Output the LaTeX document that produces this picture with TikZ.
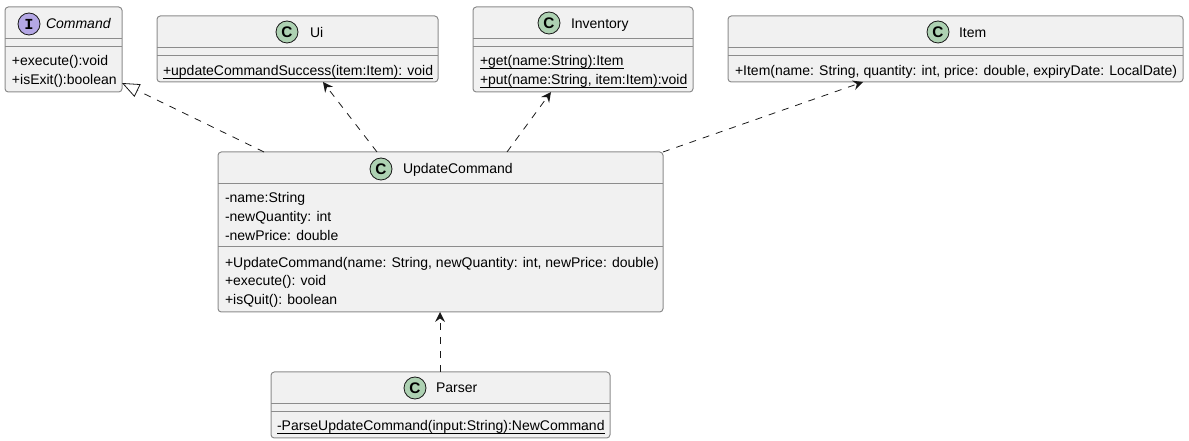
\documentclass[tikz,border=0pt]{standalone}
\usepackage{fontspec}
\setmainfont{Liberation Sans}
\newfontfamily\monob{Liberation Mono}[Scale=1.0]
\usetikzlibrary{arrows.meta,calc}
\definecolor{boxfill}{HTML}{F1F1F1}
\definecolor{boxline}{HTML}{8C8C8C}
\definecolor{inkc}{HTML}{181818}
\definecolor{classc}{HTML}{ADD1B2}
\definecolor{ifacec}{HTML}{B4A7E5}
\newlength{\ulwidth}
\newcommand{\ulmember}[1]{\settowidth{\ulwidth}{#1}\rlap{\rule[-2.3pt]{\ulwidth}{0.5pt}}#1}
\tikzset{
  x=0.75pt,y=-0.75pt,
  umlbox/.style={draw=boxline,fill=boxfill,line width=0.75pt,rounded corners=2.5pt,inner sep=0pt,outer sep=0pt,anchor=north west},
  sepline/.style={draw=boxline,line width=0.75pt},
  member/.style={anchor=base west,inner sep=0pt,outer sep=0pt,text=black,font=\fontsize{10.5}{12}\selectfont},
  badge/.style={circle,draw=inkc,line width=0.6pt,minimum size=16.5pt,inner sep=0pt,font=\fontsize{11.5}{12}\selectfont\bfseries},
  dep/.style={draw=inkc,line width=0.6pt,dash pattern=on 5.25pt off 5.25pt},
  opentip/.style={-{Stealth[inset=2.6pt,length=7.5pt,width=7.5pt,line width=0pt]}},
  realizes/.style={-{Triangle[open,length=13pt,width=10.5pt,fill=white,line width=0.6pt]}}
}
\begin{document}
\begin{tikzpicture}
\useasboundingbox (0,0) rectangle (1189,441);
% boxes
\node[umlbox,minimum width=87.75pt,minimum height=63.75pt] (cmd) at (5,7) {};
\node[umlbox,minimum width=210.75pt,minimum height=49.5pt] (ui) at (157,16) {};
\node[umlbox,minimum width=165pt,minimum height=63.75pt] (inv) at (473,7) {};
\node[umlbox,minimum width=341.25pt,minimum height=49.5pt] (item) at (728,16) {};
\node[umlbox,minimum width=333.75pt,minimum height=120pt] (upd) at (218,152) {};
\node[umlbox,minimum width=254.25pt,minimum height=49.5pt] (par) at (271,372) {};
% separators
\draw[sepline] (5,38.5) -- (122,38.5) (5,46.5) -- (122,46.5);
\draw[sepline] (157,48) -- (438,48) (157,56) -- (438,56);
\draw[sepline] (473,39) -- (693,39) (473,47) -- (693,47);
\draw[sepline] (728,48) -- (1183,48) (728,56) -- (1183,56);
\draw[sepline] (218,184) -- (663,184) (218,247) -- (663,247);
\draw[sepline] (271,404) -- (610,404) (271,412) -- (610,412);
% badges
\node[badge,fill=ifacec] (cmdb) at (29,24) {\monob I};
\node[badge,fill=classc] (uib) at (287,32) {C};
\node[badge,fill=classc] (invb) at (549,23) {C};
\node[badge,fill=classc] (itemb) at (938,32) {C};
\node[badge,fill=classc] (updb) at (381,169) {C};
\node[badge,fill=classc] (parb) at (415,388) {C};
% titles
\node[member] (cmdt) at (46,29) {\itshape Command};
\node[member] (uit) at (310,38) {Ui};
\node[member] (invt) at (571,29) {Inventory};
\node[member] (itemt) at (959,38) {Item};
\node[member] (updt) at (403,174) {UpdateCommand};
\node[member] (part) at (436,393) {Parser};
% members
\node[member] (m1) at (12,66) {+execute():void};
\node[member] (m2) at (12,85) {+isExit():boolean};
\node[member] (m3) at (163,76) {\ulmember{+updateCommandSuccess(item:Item): void}};
\node[member] (m4) at (480,66) {\ulmember{+get(name:String):Item}};
\node[member] (m5) at (480,85) {\ulmember{+put(name:String, item:Item):void}};
\node[member] (m6) at (735,76) {+Item(name: String, quantity: int, price: double, expiryDate: LocalDate)};
\node[member] (m7) at (225,203) {-name:String};
\node[member] (m8) at (225,222) {-newQuantity: int};
\node[member] (m9) at (225,240.5) {-newPrice: double};
\node[member] (m10) at (225,267.5) {+UpdateCommand(name: String, newQuantity: int, newPrice: double)};
\node[member] (m11) at (225,286) {+execute(): void};
\node[member] (m12) at (225,304.5) {+isQuit(): boolean};
\node[member] (m13) at (277,431) {\ulmember{-ParseUpdateCommand(input:String):NewCommand}};
% connectors
\draw[dep,realizes] ([xshift=34.5pt]upd.north west) -- ([yshift=6.75pt]cmd.south east);
\draw[dep,opentip] ([xshift=119.25pt]upd.north west) -- ([xshift=124.5pt]ui.south west);
\draw[dep,opentip] ([xshift=216.75pt]upd.north west) -- ([xshift=58.5pt]inv.south west);
\draw[dep,opentip] (upd.north east) -- ([xshift=101.25pt]item.south west);
\draw[dep,opentip] ([xshift=126.75pt]par.north west) -- ([xshift=166.5pt]upd.south west);
\end{tikzpicture}
\end{document}
